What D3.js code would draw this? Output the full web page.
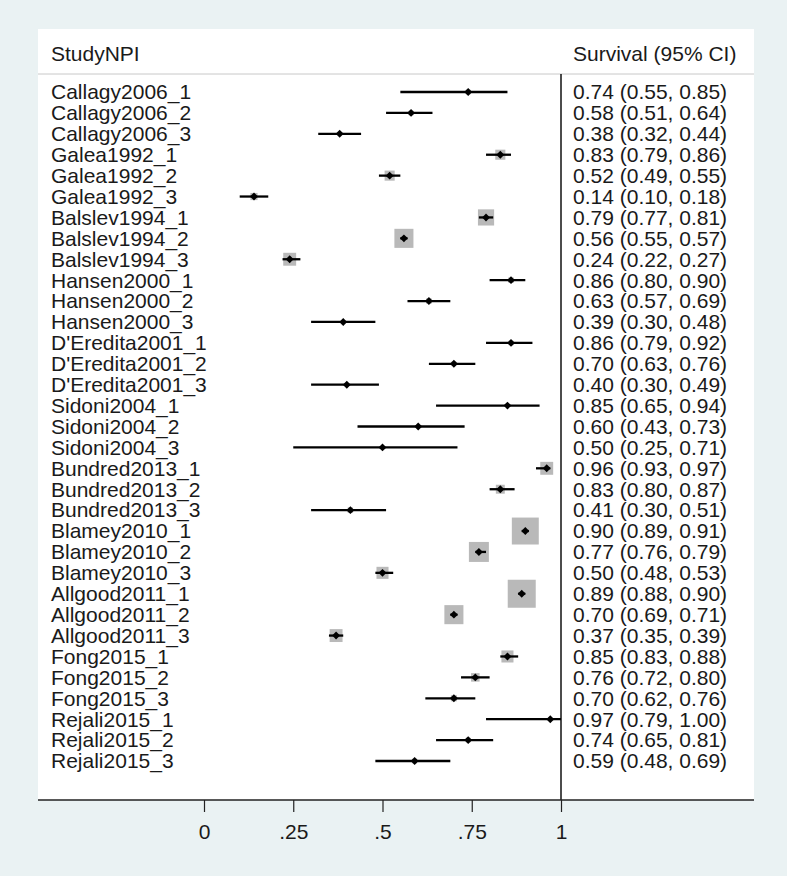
<!DOCTYPE html>
<html>
<head>
<meta charset="utf-8">
<script src="https://cdn.jsdelivr.net/npm/d3@7"></script>
<style>
  body { margin: 0; background: #eaf2f3; }
  svg { display: block; font-family: "Liberation Sans", Arial, sans-serif; }
</style>
</head>
<body>
<div id="plot"></div>
<script>
// Forest plot: survival by study / NPI group

const studies = ["Callagy2006_1","Callagy2006_2","Callagy2006_3","Galea1992_1","Galea1992_2","Galea1992_3",
  "Balslev1994_1","Balslev1994_2","Balslev1994_3","Hansen2000_1","Hansen2000_2","Hansen2000_3",
  "D'Eredita2001_1","D'Eredita2001_2","D'Eredita2001_3","Sidoni2004_1","Sidoni2004_2","Sidoni2004_3",
  "Bundred2013_1","Bundred2013_2","Bundred2013_3","Blamey2010_1","Blamey2010_2","Blamey2010_3",
  "Allgood2011_1","Allgood2011_2","Allgood2011_3","Fong2015_1","Fong2015_2","Fong2015_3",
  "Rejali2015_1","Rejali2015_2","Rejali2015_3"];
const estimate = [0.74,0.58,0.38,0.83,0.52,0.14,0.79,0.56,0.24,0.86,0.63,0.39,0.86,0.70,0.40,0.85,0.60,0.50,
  0.96,0.83,0.41,0.90,0.77,0.50,0.89,0.70,0.37,0.85,0.76,0.70,0.97,0.74,0.59];
const lower = [0.55,0.51,0.32,0.79,0.49,0.10,0.77,0.55,0.22,0.80,0.57,0.30,0.79,0.63,0.30,0.65,0.43,0.25,
  0.93,0.80,0.30,0.89,0.76,0.48,0.88,0.69,0.35,0.83,0.72,0.62,0.79,0.65,0.48];
const upper = [0.85,0.64,0.44,0.86,0.55,0.18,0.81,0.57,0.27,0.90,0.69,0.48,0.92,0.76,0.49,0.94,0.73,0.71,
  0.97,0.87,0.51,0.91,0.79,0.53,0.90,0.71,0.39,0.88,0.80,0.76,1.00,0.81,0.69];
// relative study weight (drives the grey box area)
const weight = [0.3,0.3,0.2,1.4,1.4,0.7,3.6,5.0,2.3,0.4,0.4,0.2,0.3,0.3,0.2,0.1,0.1,0.1,
  2.3,1.1,0.4,10.0,5.5,2.0,10.8,5.0,2.3,2.0,1.0,0.5,0.2,0.3,0.3];
const tickValues = [0, 0.25, 0.5, 0.75, 1];
const tickLabels = ["0", ".25", ".5", ".75", "1"];

const W = 787, H = 876;
const panel = {left: 38, right: 754, top: 29, bottom: 800};
const headerLine = 74;

const svg = d3.select("#plot").append("svg")
  .attr("width", W).attr("height", H);

svg.append("rect").attr("width", W).attr("height", H).attr("fill", "#eaf2f3");
svg.append("rect")
  .attr("x", panel.left).attr("y", panel.top)
  .attr("width", panel.right - panel.left).attr("height", panel.bottom - panel.top)
  .attr("fill", "#fff");

const x = d3.scaleLinear().domain([0, 1]).range([204, 561]);
const y = d3.scalePoint().domain(studies).range([92, 761]);
const boxSize = d3.scaleSqrt().domain([0, d3.max(weight)]).range([0, 28]);

// header
svg.append("text").attr("x", 51).attr("y", 54).attr("dy", "0.35em")
  .attr("font-size", 21).attr("fill", "#1a1a1a").text("StudyNPI");
svg.append("text").attr("x", 573).attr("y", 54).attr("dy", "0.35em")
  .attr("font-size", 21).attr("fill", "#1a1a1a").text("Survival (95% CI)");
svg.append("line")
  .attr("x1", panel.left).attr("x2", panel.right)
  .attr("y1", headerLine).attr("y2", headerLine)
  .attr("stroke", "#c8c8c8").attr("stroke-width", 1);

// vertical reference line at 1
svg.append("line")
  .attr("x1", x(1)).attr("x2", x(1))
  .attr("y1", headerLine).attr("y2", panel.bottom)
  .attr("stroke", "#111").attr("stroke-width", 1.5);

const rows = svg.append("g").selectAll("g")
  .data(studies.map((s, i) => ({s, est: estimate[i], lo: lower[i], hi: upper[i], w: weight[i]})))
  .join("g");

rows.append("rect")
  .attr("x", d => x(d.est) - boxSize(d.w) / 2)
  .attr("y", d => y(d.s) - boxSize(d.w) / 2)
  .attr("width", d => boxSize(d.w))
  .attr("height", d => boxSize(d.w))
  .attr("fill", "#b9b9b9");

rows.append("line")
  .attr("x1", d => x(d.lo)).attr("x2", d => x(d.hi))
  .attr("y1", d => y(d.s)).attr("y2", d => y(d.s))
  .attr("stroke", "#000").attr("stroke-width", 2.3);

rows.append("path")
  .attr("d", d3.symbol(d3.symbolDiamond2, 40))
  .attr("transform", d => `translate(${x(d.est)},${y(d.s)})`)
  .attr("fill", "#000");

rows.append("text")
  .attr("x", 51).attr("y", d => y(d.s)).attr("dy", "0.35em")
  .attr("font-size", 21).attr("fill", "#1a1a1a")
  .text(d => d.s);

rows.append("text")
  .attr("x", 573).attr("y", d => y(d.s)).attr("dy", "0.35em")
  .attr("font-size", 21).attr("fill", "#1a1a1a")
  .text(d => `${d.est.toFixed(2)} (${d.lo.toFixed(2)}, ${d.hi.toFixed(2)})`);

// x axis
const axis = svg.append("g")
  .attr("transform", `translate(0,${panel.bottom})`)
  .call(d3.axisBottom(x).tickValues(tickValues)
    .tickFormat((d, i) => tickLabels[i]).tickSize(12).tickSizeOuter(0).tickPadding(12));
axis.select(".domain").remove();
axis.selectAll(".tick line").attr("stroke", "#222").attr("stroke-width", 1.2);
axis.selectAll(".tick text").attr("font-size", 21).attr("fill", "#1a1a1a")
  .attr("font-family", "Liberation Sans, Arial, sans-serif");
svg.append("line")
  .attr("x1", panel.left).attr("x2", panel.right)
  .attr("y1", panel.bottom).attr("y2", panel.bottom)
  .attr("stroke", "#222").attr("stroke-width", 1.5);
</script>
</body>
</html>
